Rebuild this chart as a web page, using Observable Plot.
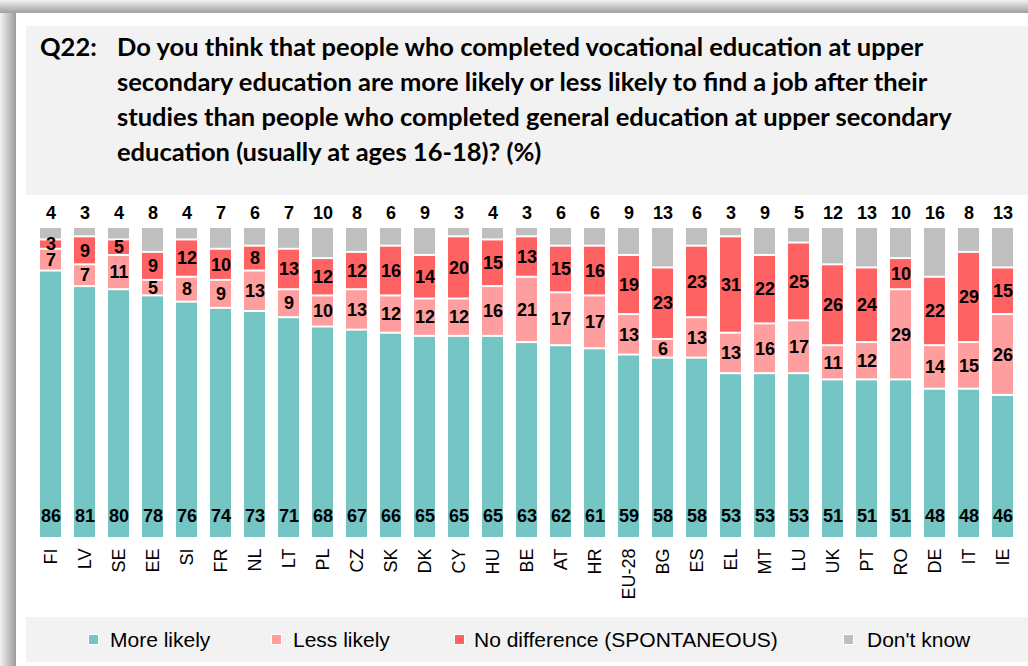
<!DOCTYPE html>
<html>
<head>
<meta charset="utf-8">
<script src="https://cdn.jsdelivr.net/npm/d3@7"></script>
<script src="https://cdn.jsdelivr.net/npm/@observablehq/plot@0.6"></script>
<style>
  html, body { margin: 0; padding: 0; }
  body { width: 1028px; height: 666px; overflow: hidden; position: relative; background: #fff; font-family: "Liberation Sans", Arial, sans-serif; }
  #shL { position: absolute; left: 0; top: 0; width: 16px; height: 666px; background: linear-gradient(to right, #f2f2f2, #d0d0d0 40%, #9c9c9c); }
  #shT { position: absolute; left: 0; top: 0; width: 1028px; height: 13px; background: linear-gradient(to bottom, #f2f2f2, #cfcfcf 40%, #a0a0a0); }
  #panel { position: absolute; left: 16px; top: 13px; width: 1012px; height: 653px; background: #fff; }
  #titlebox { position: absolute; left: 26px; top: 26px; width: 1002px; height: 169px; background: #f2f2f2; }
  .ttl { position: absolute; top: 3px; font-family: Lato, "Open Sans", sans-serif; font-weight: bold; font-size: 25.5px; line-height: 35px; color: #000; white-space: nowrap; }
  #q { left: 14px; }
  #tt { left: 91px; }
  #chart { position: absolute; left: 16px; top: 195px; }
  #legend { position: absolute; left: 26px; top: 617px; width: 1002px; height: 45px; background: #f2f2f2; }
  .li { position: absolute; top: 0; height: 45px; line-height: 45px; font-size: 21px; color: #000; white-space: nowrap; }
  .sw { position: absolute; width: 9px; height: 9px; top: 17px; border: 1.5px solid #fff; }
</style>
</head>
<body>
<div id="shL"></div>
<div id="shT"></div>
<div id="panel"></div>
<div id="titlebox">
  <div class="ttl" id="q">Q22:</div>
  <div class="ttl" id="tt">Do you think that people who completed vocational education at upper<br>secondary education are more likely or less likely to find a job after their<br>studies than people who completed general education at upper secondary<br>education (usually at ages 16-18)? (%)</div>
</div>
<div id="chart"></div>
<div id="legend"></div>
<script>
const countries = ["FI","LV","SE","EE","SI","FR","NL","LT","PL","CZ","SK","DK","CY","HU","BE","AT","HR","EU-28","BG","ES","EL","MT","LU","UK","PT","RO","DE","IT","IE"];
const moreLikely = [86,81,80,78,76,74,73,71,68,67,66,65,65,65,63,62,61,59,58,58,53,53,53,51,51,51,48,48,46];
const lessLikely = [7,7,11,5,8,9,13,9,10,13,12,12,12,16,21,17,17,13,6,13,13,16,17,11,12,29,14,15,26];
const noDifference = [3,9,5,9,12,10,8,13,12,12,16,14,20,15,13,15,16,19,23,23,31,22,25,26,24,10,22,29,15];
const dontKnow = [4,3,4,8,4,7,6,7,10,8,6,9,3,4,3,6,6,9,13,6,3,9,5,12,13,10,16,8,13];

const seriesNames = ["More likely", "Less likely", "No difference (SPONTANEOUS)", "Don't know"];
const seriesColors = ["#74C5C4", "#FF9E9E", "#FF6262", "#BFBFBF"];
const seriesValues = [moreLikely, lessLikely, noDifference, dontKnow];

const data = [];
countries.forEach((c, i) => {
  seriesNames.forEach((s, k) => data.push({country: c, series: s, value: seriesValues[k][i]}));
});

const stackOpts = {x: "country", y: "value", z: "series", order: seriesNames};

const chart = Plot.plot({
  width: 1012,
  height: 417,
  marginLeft: 14,
  marginRight: 4,
  marginTop: 32,
  marginBottom: 74,
  style: {fontFamily: "'Liberation Sans', Arial, sans-serif", background: "transparent"},
  x: {domain: countries, paddingInner: 0.37, paddingOuter: 0, label: null},
  y: {domain: [0, 100], axis: null},
  color: {domain: seriesNames, range: seriesColors},
  marks: [
    Plot.barY(data, Plot.stackY({...stackOpts, fill: "series", insetTop: 1, insetBottom: 1})),
    Plot.text(data, Plot.stackY({...stackOpts,
      text: d => (d.series === seriesNames[1] || d.series === seriesNames[2]) ? d.value : null,
      fontSize: 18, fontWeight: "bold", fill: "#000"})),
    Plot.text(data.filter(d => d.series === seriesNames[0]), {x: "country", y: 0, text: "value", dy: -22, fontSize: 18, fontWeight: "bold", fill: "#000"}),
    Plot.text(data.filter(d => d.series === seriesNames[3]), {x: "country", y: 100, text: "value", dy: -14, fontSize: 18, fontWeight: "bold", fill: "#000"}),
    Plot.axisX({tickSize: 0, tickPadding: 10, tickRotate: -90, fontSize: 18, label: null, fill: "#000"})
  ]
});
document.getElementById("chart").appendChild(chart);

// legend
const legendPos = [[62, 84], [245, 267], [428, 448], [817, 841]];
const lg = document.getElementById("legend");
seriesNames.forEach((s, k) => {
  const sw = document.createElement("div");
  sw.className = "sw";
  sw.style.left = legendPos[k][0] + "px";
  sw.style.background = seriesColors[k];
  lg.appendChild(sw);
  const t = document.createElement("div");
  t.className = "li";
  t.style.left = legendPos[k][1] + "px";
  t.textContent = s;
  lg.appendChild(t);
});
</script>
</body>
</html>
